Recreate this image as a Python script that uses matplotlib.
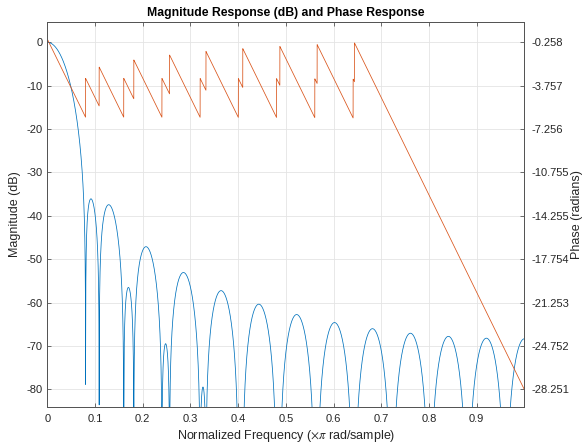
import numpy as np
import matplotlib
matplotlib.use('Agg')
import matplotlib.pyplot as plt
from matplotlib.ticker import FixedLocator, FixedFormatter

# ---- data -------------------------------------------------------------
# FIR filter taps (first half incl. centre tap; the filter is symmetric, 51 taps)
taps_half = [0.000000000, 0.000498903, 0.001234464, 0.002201672,
             0.003391803, 0.004792557, 0.006388241, 0.008160023,
             0.010086226, 0.012142669, 0.014303055, 0.016539386,
             0.018822415, 0.021122107, 0.023408127, 0.025650319,
             0.027819195, 0.029886407, 0.031825200, 0.033610845,
             0.035221034, 0.036636240, 0.037840032, 0.038819337,
             0.039564650, 0.040070187]
n_points = 8192  # frequency samples over [0, pi)

freq_ticks = [0, 0.1, 0.2, 0.3, 0.4, 0.5, 0.6, 0.7, 0.8, 0.9]
freq_tick_labels = ['0', '0.1', '0.2', '0.3', '0.4', '0.5', '0.6', '0.7', '0.8', '0.9']
mag_ticks = [-80, -70, -60, -50, -40, -30, -20, -10, 0]
mag_tick_labels = ['-80', '-70', '-60', '-50', '-40', '-30', '-20', '-10', '0']
phase_tick_labels = ['-28.251', '-24.752', '-21.253', '-17.754', '-14.255',
                     '-10.755', '-7.256', '-3.757', '-0.258']
mag_limits = [-84.15, 4.75]

title = 'Magnitude Response (dB) and Phase Response'
xlabel = r'Normalized Frequency ($\times\pi$ rad/sample)'
ylabel_left = 'Magnitude (dB)'
ylabel_right = 'Phase (radians)'

# ---- frequency response (like freqz) ----------------------------------
taps = np.array(taps_half + taps_half[-2::-1])
taps = taps / taps.sum()
H = np.fft.fft(taps, 2 * n_points)[:n_points]
freq = np.arange(n_points) / n_points
mag_db = 20 * np.log10(np.abs(H) + 1e-300)
phase = np.unwrap(np.angle(H))

# ---- style ------------------------------------------------------------
plt.rcParams['font.family'] = ['Liberation Sans', 'DejaVu Sans']
plt.rcParams['mathtext.fontset'] = 'stix'
txt = '#262626'
edge = '#555555'
blue = '#0072BD'
orange = '#D95319'

W, Hpx = 583, 446
fig = plt.figure(figsize=(W / 100, Hpx / 100), dpi=100)
left, right, top, bottom = 47.3, 524.3, 21.7, 407.3
ax = fig.add_axes([left / W, 1 - bottom / Hpx, (right - left) / W, (bottom - top) / Hpx])

ax.plot(freq, mag_db, color=blue, lw=0.55, zorder=3)
ax.set_xlim(0, freq[-1])
ax.set_ylim(*mag_limits)
ax.xaxis.set_major_locator(FixedLocator(freq_ticks))
ax.xaxis.set_major_formatter(FixedFormatter(freq_tick_labels))
ax.yaxis.set_major_locator(FixedLocator(mag_ticks))
ax.yaxis.set_major_formatter(FixedFormatter(mag_tick_labels))
ax.grid(True, color='#e4e4e4', lw=0.6)
ax.set_axisbelow(True)
ax.tick_params(axis='both', direction='in', length=3, width=0.6, color=edge,
               labelsize=8, labelcolor=txt, top=True, right=False)
ax.tick_params(axis='x', pad=5)
ax.tick_params(axis='y', pad=3.5)
for s in ax.spines.values():
    s.set_color(edge)
    s.set_linewidth(0.7)

# phase axis aligned with magnitude ticks
phase_vals = [float(v) for v in phase_tick_labels]
slope = (phase_vals[-1] - phase_vals[0]) / (mag_ticks[-1] - mag_ticks[0])
offset = phase_vals[-1] - slope * mag_ticks[-1]
ax2 = ax.twinx()
ax2.plot(freq, phase, color=orange, lw=0.55)
ax2.set_ylim(offset + slope * mag_limits[0], offset + slope * mag_limits[1])
ax2.yaxis.set_major_locator(FixedLocator(phase_vals))
ax2.yaxis.set_major_formatter(FixedFormatter(phase_tick_labels))
ax2.tick_params(axis='y', direction='in', length=3, width=0.6, color=edge,
                labelsize=8, labelcolor=txt, pad=5)
for s in ax2.spines.values():
    s.set_color(edge)
    s.set_linewidth(0.7)

ax.set_title(title, fontsize=8.8, fontweight='bold', color='#000000', pad=4)
ax.set_xlabel(xlabel, fontsize=9, color=txt, labelpad=3)
ax.set_ylabel(ylabel_left, fontsize=9, color=txt, labelpad=4)
ax2.set_ylabel(ylabel_right, fontsize=9, color=txt, labelpad=1.5)

fig.savefig('out.png', dpi=100)
